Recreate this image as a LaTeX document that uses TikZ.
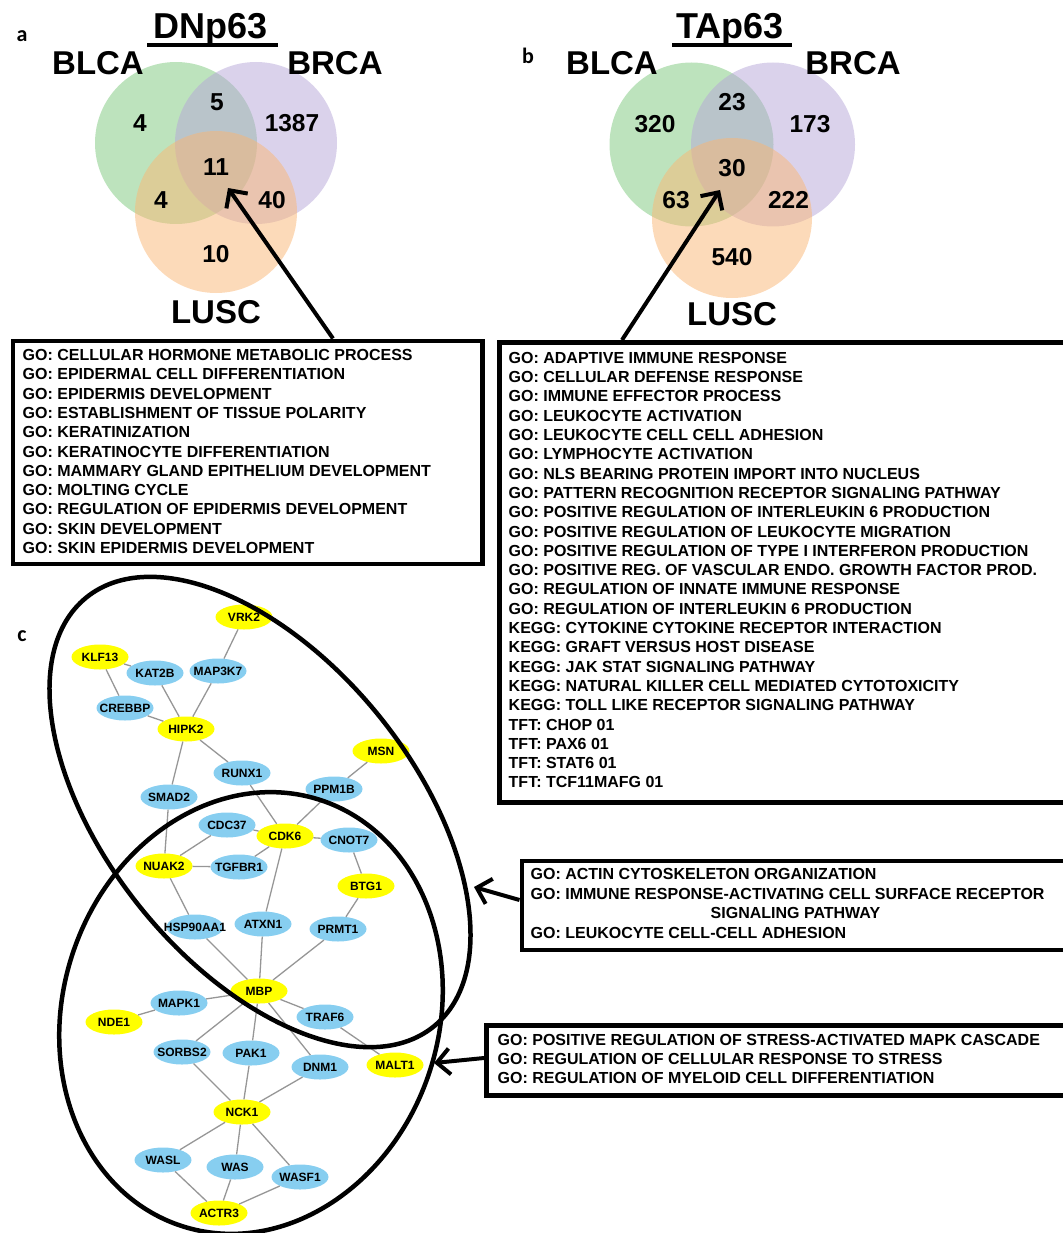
\documentclass[tikz,border=0pt]{standalone}
\usepackage{fontspec}
\setmainfont{Liberation Sans}
\newfontfamily\carl{Carlito}
\usetikzlibrary{arrows.meta,shapes.geometric,calc}
\definecolor{vgreen}{RGB}{124,200,124}
\definecolor{vpurple}{RGB}{182,166,216}
\definecolor{vorange}{RGB}{250,182,116}
\definecolor{gblue}{RGB}{135,206,240}
\definecolor{gyellow}{RGB}{255,255,0}
\definecolor{edgegray}{RGB}{150,150,150}
\newcommand{\gn}[1]{\makebox[0pt]{#1}}
\begin{document}
\begin{tikzpicture}[x=1pt,y=-1pt,
  vfill/.style={fill opacity=0.5, draw=none},
  vlabel/.style={font=\fontsize{33}{33}\selectfont\bfseries, inner sep=0},
  vnum/.style={font=\fontsize{24.5}{24.5}\selectfont\bfseries, inner sep=0},
  vtitle/.style={font=\fontsize{36}{36}\selectfont\bfseries, inner sep=0, anchor=base},
  panel/.style={font=\fontsize{22}{22}\selectfont\carl\bfseries, inner sep=0},
  gotext/.style={font=\fontsize{16}{19.3}\selectfont\bfseries, align=left, inner sep=0, anchor=north west},
  gobox/.style={draw, line width=4.5pt, inner sep=0, anchor=north west},
  bigarrow/.style={line width=4pt, -{Straight Barb[length=13pt,width=26pt]}},
  gene/.style={ellipse, minimum width=57pt, minimum height=25pt, inner sep=0, font=\fontsize{12}{12}\selectfont\bfseries},
  ygene/.style={gene, fill=gyellow},
  bgene/.style={gene, fill=gblue},
  link/.style={draw=edgegray, line width=1.3pt},
  outline/.style={line width=4.5pt}
]
\useasboundingbox (0,0) rectangle (1062,1233);

% ---------- Panel a ----------
\node[panel] (pa) at (22,36) {a};
\fill[vgreen, vfill] (176,143) circle [radius=81pt];
\fill[vpurple, vfill] (256,143) circle [radius=81pt];
\fill[vorange, vfill] (216,212) circle [radius=81pt];
\node[vtitle] (tdn) at (211,39) {DNp63};
\draw[line width=4.5pt] (147,45) -- (278,45);
\node[vlabel] (aBLCA) at (98,63) {BLCA};
\node[vlabel] (aBRCA) at (335,63) {BRCA};
\node[vlabel] (aLUSC) at (216,312) {LUSC};
\node[vnum] (a1) at (140,123) {4};
\node[vnum] (a2) at (217,102) {5};
\node[vnum] (a3) at (292,123) {1387};
\node[vnum] (a4) at (216,167) {11};
\node[vnum] (a5) at (161,200) {4};
\node[vnum] (a6) at (272,200) {40};
\node[vnum] (a7) at (216,254) {10};

\node[gobox, minimum width=469.5pt, minimum height=223pt] (boxa) at (10.5,338.5) {};
\node[gotext] (txta) at (22.5,349.2) {GO: CELLULAR HORMONE METABOLIC PROCESS\\
GO: EPIDERMAL CELL DIFFERENTIATION\\
GO: EPIDERMIS DEVELOPMENT\\
GO: ESTABLISHMENT OF TISSUE POLARITY\\
GO: KERATINIZATION\\
GO: KERATINOCYTE DIFFERENTIATION\\
GO: MAMMARY GLAND EPITHELIUM DEVELOPMENT\\
GO: MOLTING CYCLE\\
GO: REGULATION OF EPIDERMIS DEVELOPMENT\\
GO: SKIN DEVELOPMENT\\
GO: SKIN EPIDERMIS DEVELOPMENT};
\coordinate (aStart) at (333,338.5);
\coordinate (aTip) at (228,188);
\draw[bigarrow] (aStart) -- (aTip);

% ---------- Panel b ----------
\node[panel] (pb) at (528,56) {b};
\fill[vgreen, vfill] (691.5,144.5) circle [radius=82pt];
\fill[vpurple, vfill] (773,144.5) circle [radius=82pt];
\fill[vorange, vfill] (732,218) circle [radius=80pt];
\node[vtitle] (tta) at (730,39) {TAp63};
\draw[line width=4.5pt] (672,45) -- (792,45);
\node[vlabel] (bBLCA) at (612,63) {BLCA};
\node[vlabel] (bBRCA) at (853,63) {BRCA};
\node[vlabel] (bLUSC) at (732,314) {LUSC};
\node[vnum] (b1) at (655,124) {320};
\node[vnum] (b2) at (732,102) {23};
\node[vnum] (b3) at (810,124) {173};
\node[vnum] (b4) at (732,168) {30};
\node[vnum] (b5) at (676,200) {63};
\node[vnum] (b6) at (788.5,200) {222};
\node[vnum] (b7) at (732,257) {540};

\node[gobox, minimum width=580pt, minimum height=460pt] (boxb) at (497,340) {};
\node[gotext] (txtb) at (508.5,352) {GO: ADAPTIVE IMMUNE RESPONSE\\
GO: CELLULAR DEFENSE RESPONSE\\
GO: IMMUNE EFFECTOR PROCESS\\
GO: LEUKOCYTE ACTIVATION\\
GO: LEUKOCYTE CELL CELL ADHESION\\
GO: LYMPHOCYTE ACTIVATION\\
GO: NLS BEARING PROTEIN IMPORT INTO NUCLEUS\\
GO: PATTERN RECOGNITION RECEPTOR SIGNALING PATHWAY\\
GO: POSITIVE REGULATION OF INTERLEUKIN 6 PRODUCTION\\
GO: POSITIVE REGULATION OF LEUKOCYTE MIGRATION\\
GO: POSITIVE REGULATION OF TYPE I INTERFERON PRODUCTION\\
GO: POSITIVE REG. OF VASCULAR ENDO. GROWTH FACTOR PROD.\\
GO: REGULATION OF INNATE IMMUNE RESPONSE\\
GO: REGULATION OF INTERLEUKIN 6 PRODUCTION\\
KEGG: CYTOKINE CYTOKINE RECEPTOR INTERACTION\\
KEGG: GRAFT VERSUS HOST DISEASE\\
KEGG: JAK STAT SIGNALING PATHWAY\\
KEGG: NATURAL KILLER CELL MEDIATED CYTOTOXICITY\\
KEGG: TOLL LIKE RECEPTOR SIGNALING PATHWAY\\
TFT: CHOP 01\\
TFT: PAX6 01\\
TFT: STAT6 01\\
TFT: TCF11MAFG 01};
\coordinate (bStart) at (622,340);
\coordinate (bTip) at (720,190);
\draw[bigarrow] (bStart) -- (bTip);

% ---------- Panel c ----------
\node[panel] (pc) at (22,636) {c};

\node[ygene] (VRK2) at (244,617) {\gn{VRK2}};
\node[ygene] (KLF13) at (100,657) {\gn{KLF13}};
\node[bgene] (KAT2B) at (155,673) {\gn{KAT2B}};
\node[bgene] (MAP3K7) at (218,671) {\gn{MAP3K7}};
\node[bgene] (CREBBP) at (125,708) {\gn{CREBBP}};
\node[ygene] (HIPK2) at (186,729) {\gn{HIPK2}};
\node[ygene] (MSN) at (381,751) {\gn{MSN}};
\node[bgene] (RUNX1) at (242,773) {\gn{RUNX1}};
\node[bgene] (PPM1B) at (334,789) {\gn{PPM1B}};
\node[bgene] (SMAD2) at (169,797) {\gn{SMAD2}};
\node[bgene] (CDC37) at (227,825) {\gn{CDC37}};
\node[ygene] (CDK6) at (285,836) {\gn{CDK6}};
\node[bgene] (CNOT7) at (349,840) {\gn{CNOT7}};
\node[ygene] (NUAK2) at (164,866) {\gn{NUAK2}};
\node[bgene] (TGFBR1) at (239,867) {\gn{TGFBR1}};
\node[ygene] (BTG1) at (366,886) {\gn{BTG1}};
\node[bgene] (HSP90AA1) at (195,927) {\gn{HSP90AA1}};
\node[bgene] (ATXN1) at (263,924) {\gn{ATXN1}};
\node[bgene] (PRMT1) at (338,929) {\gn{PRMT1}};
\node[ygene] (MBP) at (259,991) {\gn{MBP}};
\node[bgene] (MAPK1) at (179,1003) {\gn{MAPK1}};
\node[ygene] (NDE1) at (114,1022) {\gn{NDE1}};
\node[bgene] (TRAF6) at (325,1017) {\gn{TRAF6}};
\node[bgene] (SORBS2) at (182,1052) {\gn{SORBS2}};
\node[bgene] (PAK1) at (251,1053) {\gn{PAK1}};
\node[bgene] (DNM1) at (320,1067) {\gn{DNM1}};
\node[ygene] (MALT1) at (395,1065) {\gn{MALT1}};
\node[ygene] (NCK1) at (242,1112) {\gn{NCK1}};
\node[bgene] (WASL) at (163,1160) {\gn{WASL}};
\node[bgene] (WAS) at (235,1167) {\gn{WAS}};
\node[bgene] (WASF1) at (300,1177) {\gn{WASF1}};
\node[ygene] (ACTR3) at (219,1213) {\gn{ACTR3}};

\foreach \a/\b in {VRK2/MAP3K7, KLF13/KAT2B, KLF13/CREBBP, KAT2B/HIPK2, MAP3K7/HIPK2,
  CREBBP/HIPK2, HIPK2/RUNX1, HIPK2/SMAD2, MSN/PPM1B, RUNX1/CDK6, PPM1B/CDK6,
  SMAD2/NUAK2, CDC37/CDK6, CDC37/NUAK2, CDK6/CNOT7, CDK6/TGFBR1, NUAK2/TGFBR1,
  CNOT7/BTG1, CDK6/ATXN1, NUAK2/HSP90AA1, BTG1/PRMT1, HSP90AA1/MBP, ATXN1/MBP,
  PRMT1/MBP, MBP/MAPK1, MAPK1/NDE1, MBP/TRAF6, TRAF6/MALT1, MBP/SORBS2, MBP/PAK1,
  MBP/DNM1, SORBS2/NCK1, PAK1/NCK1, DNM1/NCK1, NCK1/WASL, NCK1/WAS, NCK1/WASF1,
  WASL/ACTR3, WAS/ACTR3, WASF1/ACTR3}
  \draw[link] (\a) -- (\b);

% group outlines
\draw[outline, rotate around={-51:(260,812)}] (260,812) ellipse [x radius=276pt, y radius=153pt];
\draw[outline, rotate around={-18:(251,1013)}] (251,1013) ellipse [x radius=188pt, y radius=224pt];

% boxes for panel c
\node[gobox, minimum width=560pt, minimum height=89pt] (boxc1) at (519.5,858.5) {};
\node[gotext, font=\fontsize{16}{19.5}\selectfont\bfseries] (txtc1) at (530.5,868.2) {GO: ACTIN CYTOSKELETON ORGANIZATION\\
GO: IMMUNE RESPONSE-ACTIVATING CELL SURFACE RECEPTOR\\
\hspace*{180pt}SIGNALING PATHWAY\\
GO: LEUKOCYTE CELL-CELL ADHESION};
\node[gobox, minimum width=600pt, minimum height=70pt] (boxc2) at (484,1023) {};
\node[gotext, font=\fontsize{16}{19}\selectfont\bfseries] (txtc2) at (497.5,1034.2) {GO: POSITIVE REGULATION OF STRESS-ACTIVATED MAPK CASCADE\\
GO: REGULATION OF CELLULAR RESPONSE TO STRESS\\
GO: REGULATION OF MYELOID CELL DIFFERENTIATION};

\coordinate (c1Start) at (519.5,900);
\coordinate (c1Tip) at (474,887);
\draw[bigarrow] (c1Start) -- (c1Tip);
\coordinate (c2Start) at (484,1058);
\coordinate (c2Tip) at (434,1063);
\draw[bigarrow] (c2Start) -- (c2Tip);
\end{tikzpicture}
\end{document}
